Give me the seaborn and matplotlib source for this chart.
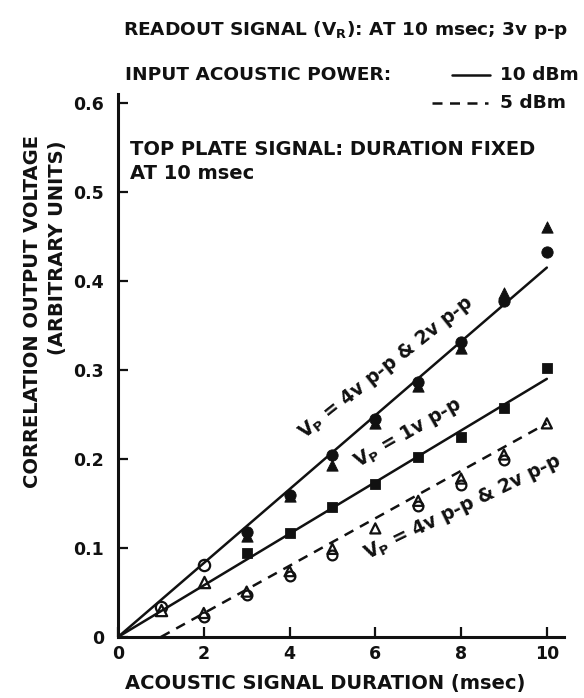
import matplotlib
matplotlib.use('Agg')
import matplotlib.pyplot as plt
from matplotlib.lines import Line2D
import seaborn as sns
import pandas as pd

# acoustic signal duration (msec)
duration = [1, 2, 3, 4, 5, 6, 7, 8, 9, 10]

# 10 dBm, Vp = 4v p-p (circles); first two points drawn open
circ_10dbm = [0.034, 0.081, 0.118, 0.160, 0.204, 0.245, 0.287, 0.331, 0.378, 0.432]
# 10 dBm, Vp = 2v p-p (triangles) from 3 msec on
tri_10dbm_x = [3, 4, 5, 6, 7, 8, 9, 10]
tri_10dbm = [0.114, 0.158, 0.193, 0.240, 0.282, 0.325, 0.386, 0.461]
# 10 dBm, Vp = 1v p-p (squares) from 3 msec on, open points at 1 and 2 msec
sq_10dbm_x = [3, 4, 5, 6, 7, 8, 9, 10]
sq_10dbm = [0.094, 0.117, 0.146, 0.172, 0.202, 0.225, 0.257, 0.302]
open_1v_x = [1, 2]
open_1v = [0.030, 0.062]

# 5 dBm, open circles and open triangles
circ_5dbm_x = [2, 3, 4, 5, 7, 8, 9]
circ_5dbm = [0.022, 0.047, 0.069, 0.092, 0.147, 0.171, 0.199]
tri_5dbm_x = [2, 3, 4, 5, 6, 7, 8, 9, 10]
tri_5dbm = [0.027, 0.051, 0.074, 0.099, 0.122, 0.153, 0.178, 0.205, 0.240]

# straight lines drawn through the data
fit_4v_x, fit_4v_y = [0, 10], [0, 0.415]
fit_1v_x, fit_1v_y = [0, 10], [0, 0.290]
fit_5dbm_x, fit_5dbm_y = [1.0, 10], [0, 0.240]

yticks = [0, 0.1, 0.2, 0.3, 0.4, 0.5, 0.6]
ytick_labels = ['0', '0.1', '0.2', '0.3', '0.4', '0.5', '0.6']
xticks = [0, 2, 4, 6, 8, 10]

sns.set_style('ticks')
plt.rcParams['font.family'] = ['DejaVu Sans']
plt.rcParams['font.weight'] = 'bold'

W, H = 584, 698
ink = '#111111'
fig = plt.figure(figsize=(W / 100, H / 100), dpi=100)
ax = fig.add_axes([118 / W, 1 - 637 / H, 446 / W, 543 / H])

lw = 1.8
sns.lineplot(x=fit_4v_x, y=fit_4v_y, ax=ax, color=ink, lw=lw)
sns.lineplot(x=fit_1v_x, y=fit_1v_y, ax=ax, color=ink, lw=lw)
sns.lineplot(x=fit_5dbm_x, y=fit_5dbm_y, ax=ax, color=ink, lw=lw,
             dashes=False, linestyle=(0, (4, 3)))

ms = 66
df_c = pd.DataFrame({'x': duration, 'y': circ_10dbm})
sns.scatterplot(data=df_c.iloc[2:], x='x', y='y', ax=ax, marker='o', s=ms, color=ink, edgecolor=ink)
sns.scatterplot(data=df_c.iloc[:2], x='x', y='y', ax=ax, marker='o', s=ms,
                facecolors='white', edgecolor=ink, linewidth=1.6)
sns.scatterplot(x=tri_10dbm_x, y=tri_10dbm, ax=ax, marker='^', s=ms, color=ink, edgecolor=ink)
sns.scatterplot(x=sq_10dbm_x, y=sq_10dbm, ax=ax, marker='s', s=ms * 0.8, color=ink, edgecolor=ink)
sns.scatterplot(x=open_1v_x, y=open_1v, ax=ax, marker='^', s=ms,
                facecolors='white', edgecolor=ink, linewidth=1.6)
sns.scatterplot(x=circ_5dbm_x, y=circ_5dbm, ax=ax, marker='o', s=ms * 0.75,
                facecolors='white', edgecolor=ink, linewidth=1.6)
sns.scatterplot(x=tri_5dbm_x, y=tri_5dbm, ax=ax, marker='^', s=ms * 0.8,
                facecolors='none', edgecolor=ink, linewidth=1.6)

ax.set_xlim(0, 10.4)
ax.set_ylim(0, 0.61)
ax.set_xticks(xticks)
ax.set_xticklabels([str(t) for t in xticks])
ax.set_yticks(yticks)
ax.set_yticklabels(ytick_labels)
ax.tick_params(direction='in', length=7, width=1.6, labelsize=12.5, colors=ink)
ax.tick_params(axis='x', pad=6)
ax.tick_params(axis='y', pad=10)
sns.despine(ax=ax)
for s in ['left', 'bottom']:
    ax.spines[s].set_linewidth(2.2)
    ax.spines[s].set_color(ink)
ax.set_xlabel('')
ax.set_ylabel('')

fs = 14
hfs = 13.3
# axis titles
fig.text(325 / W, 1 - 683 / H, 'ACOUSTIC SIGNAL DURATION (msec)', ha='center', va='center',
         fontsize=fs, color=ink)
fig.text(33 / W, 1 - 312 / H, 'CORRELATION OUTPUT VOLTAGE', rotation=90, ha='center', va='center',
         fontsize=fs, color=ink)
fig.text(58 / W, 1 - 248 / H, '(ARBITRARY UNITS)', rotation=90, ha='center', va='center',
         fontsize=fs, color=ink)

# header notes
fig.text(123 / W, 1 - 30 / H, 'READOUT SIGNAL (V$_\\mathbf{R}$): AT 10 msec; 3v p-p', ha='left', va='center',
         fontsize=hfs, color=ink)
fig.text(125 / W, 1 - 75 / H, 'INPUT ACOUSTIC POWER:', ha='left', va='center', fontsize=hfs, color=ink)
fig.add_artist(Line2D([452 / W, 490 / W], [1 - 75 / H, 1 - 75 / H], color=ink, lw=lw))
fig.text(500 / W, 1 - 75 / H, '10 dBm', ha='left', va='center', fontsize=hfs, color=ink)
fig.add_artist(Line2D([432 / W, 488 / W], [1 - 103 / H, 1 - 103 / H], color=ink, lw=lw,
                      linestyle=(0, (4, 3))))
fig.text(500 / W, 1 - 103 / H, '5 dBm', ha='left', va='center', fontsize=hfs, color=ink)

ax.text(0.28, 0.534, 'TOP PLATE SIGNAL: DURATION FIXED\nAT 10 msec', ha='left', va='center',
        fontsize=fs, color=ink, linespacing=1.3)

# curve labels
lfs = 13.5
ax.text(6.25, 0.302, 'V$_\\mathbf{P}$ = 4v p-p & 2v p-p', rotation=38.5, ha='center', va='center',
        rotation_mode='anchor', fontsize=lfs, color=ink)
ax.text(6.76, 0.229, 'V$_\\mathbf{P}$ = 1v p-p', rotation=30, ha='center', va='center',
        rotation_mode='anchor', fontsize=lfs, color=ink)
ax.text(8.05, 0.146, 'V$_\\mathbf{P}$ = 4v p-p & 2v p-p', rotation=26, ha='center', va='center',
        rotation_mode='anchor', fontsize=lfs, color=ink)

plt.savefig('out.png', dpi=100, facecolor='white')
